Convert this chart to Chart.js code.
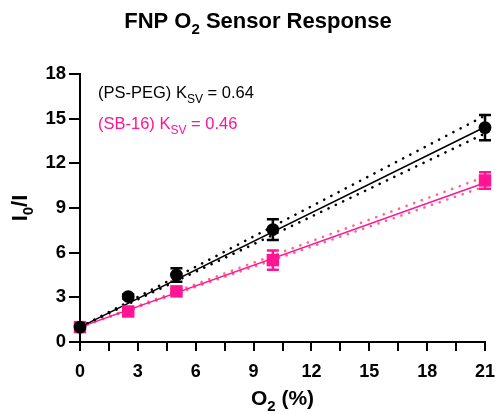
<!DOCTYPE html>
<html>
<head>
<meta charset="utf-8">
<script src="https://cdn.jsdelivr.net/npm/chart.js@4/dist/chart.umd.min.js"></script>
<style>
html,body{margin:0;padding:0;background:#fff;}
#wrap{width:495px;height:414px;}
</style>
</head>
<body>
<div id="wrap"><canvas id="c" width="495" height="414"></canvas></div>
<script>
// ---- data ----
const o2Levels      = [0, 2.5, 5, 10, 21];
const psPegMean     = [1.0, 3.05, 4.5, 7.55, 14.4];
const psPegErr      = [0, 0.15, 0.45, 0.7, 0.85];
const sb16Mean      = [1.0, 2.05, 3.4, 5.5, 10.85];
const sb16Err       = [0, 0.1, 0.15, 0.65, 0.55];
const fitX          = [0, 21];
const psPegFit      = [1.0, 14.44];
const psPegUpper    = [1.0, 15.2];
const psPegLower    = [1.0, 14.0];
const sb16Fit       = [1.0, 10.7];
const sb16Upper     = [1.0, 11.1];
const sb16Lower     = [1.0, 10.45];
const xTicks        = [0, 3, 6, 9, 12, 15, 18, 21];
const xMinorTicks   = [1.5, 4.5, 7.5, 10.5, 13.5, 16.5, 19.5];
const yTicks        = [0, 3, 6, 9, 12, 15, 18];
const ksvPsPeg      = '0.64';
const ksvSb16       = '0.46';

const BLACK = '#000000';
const PINK = '#FF1493';
const PINK_BAND = '#FF6680';
const FONT = '"Liberation Sans", Arial, Helvetica, sans-serif';

const pts = (xs, ys) => xs.map((x, i) => ({x: x, y: ys[i]}));

function drawRich(ctx, parts, x, y, align, size, weight, color) {
  ctx.save();
  ctx.fillStyle = color;
  ctx.textBaseline = 'alphabetic';
  const subSize = Math.round(size * 0.7);
  let total = 0;
  const widths = parts.map(p => {
    ctx.font = weight + ' ' + (p.sub ? subSize : size) + 'px ' + FONT;
    const w = ctx.measureText(p.t).width;
    total += w;
    return w;
  });
  let cx = align === 'center' ? x - total / 2 : (align === 'right' ? x - total : x);
  ctx.textAlign = 'left';
  parts.forEach((p, i) => {
    ctx.font = weight + ' ' + (p.sub ? subSize : size) + 'px ' + FONT;
    ctx.fillText(p.t, cx, p.sub ? y + size * 0.28 : y);
    cx += widths[i];
  });
  ctx.restore();
}

const errorBars = {
  id: 'errorBars',
  afterDatasetsDraw(chart) {
    const ctx = chart.ctx;
    const xs = chart.scales.x, ys = chart.scales.y;
    const sets = [[psPegMean, psPegErr, BLACK], [sb16Mean, sb16Err, PINK]];
    ctx.save();
    sets.forEach(([m, e, col]) => {
      ctx.strokeStyle = col;
      ctx.lineWidth = 2.5;
      o2Levels.forEach((x, i) => {
        if (!e[i]) return;
        const px = xs.getPixelForValue(x);
        const top = ys.getPixelForValue(m[i] + e[i]);
        const bot = ys.getPixelForValue(m[i] - e[i]);
        ctx.beginPath();
        ctx.moveTo(px, top); ctx.lineTo(px, bot);
        ctx.moveTo(px - 6, top); ctx.lineTo(px + 6, top);
        ctx.moveTo(px - 6, bot); ctx.lineTo(px + 6, bot);
        ctx.stroke();
      });
    });
    ctx.restore();
  }
};

const decorations = {
  id: 'decorations',
  afterDraw(chart) {
    const ctx = chart.ctx;
    const a = chart.chartArea;
    // title
    drawRich(ctx, [{t:'FNP O'}, {t:'2', sub:true}, {t:' Sensor Response'}], 258, 28, 'center', 22, 'bold', BLACK);
    // x title
    drawRich(ctx, [{t:'O'}, {t:'2', sub:true}, {t:' (%)'}], (a.left + a.right) / 2, 405, 'center', 21, 'bold', BLACK);
    // y title
    ctx.save();
    ctx.translate(27, (a.top + a.bottom) / 2);
    ctx.rotate(-Math.PI / 2);
    drawRich(ctx, [{t:'I'}, {t:'0', sub:true}, {t:'/I'}], 0, 0, 'center', 22, 'bold', BLACK);
    ctx.restore();
    // annotations
    drawRich(ctx, [{t:'(PS-PEG) K'}, {t:'SV', sub:true}, {t:' = ' + ksvPsPeg}], 98, 98, 'left', 16.5, 'normal', BLACK);
    drawRich(ctx, [{t:'(SB-16) K'}, {t:'SV', sub:true}, {t:' = ' + ksvSb16}], 98, 129, 'left', 16.5, 'normal', PINK);
  }
};

new Chart(document.getElementById('c'), {
  type: 'line',
  data: {
    datasets: [
      { data: pts(o2Levels, psPegMean), showLine: false, pointStyle: 'circle', pointRadius: 6.4,
        pointBackgroundColor: BLACK, pointBorderColor: BLACK, pointBorderWidth: 0, clip: false },
      { data: pts(o2Levels, sb16Mean), showLine: false, pointStyle: 'rect', pointRadius: 8.8,
        pointBackgroundColor: PINK, pointBorderColor: PINK, pointBorderWidth: 0, clip: false },
      { data: pts(fitX, psPegFit), borderColor: BLACK, borderWidth: 1.5, pointRadius: 0, clip: false },
      { data: pts(fitX, sb16Fit), borderColor: PINK, borderWidth: 1.5, pointRadius: 0, clip: false },
      { data: pts(fitX, psPegUpper), borderColor: BLACK, borderWidth: 2.6, borderDash: [0.1, 8], borderCapStyle: 'round', pointRadius: 0, clip: false },
      { data: pts(fitX, psPegLower), borderColor: BLACK, borderWidth: 2.6, borderDash: [0.1, 8], borderCapStyle: 'round', pointRadius: 0, clip: false },
      { data: pts(fitX, sb16Upper), borderColor: PINK_BAND, borderWidth: 2.6, borderDash: [0.1, 8], borderCapStyle: 'round', pointRadius: 0, clip: false },
      { data: pts(fitX, sb16Lower), borderColor: PINK_BAND, borderWidth: 2.6, borderDash: [0.1, 8], borderCapStyle: 'round', pointRadius: 0, clip: false }
    ]
  },
  options: {
    responsive: false,
    animation: false,
    events: [],
    layout: { padding: { top: 74, right: 10, left: 0, bottom: 0 } },
    plugins: { legend: { display: false }, tooltip: { enabled: false }, title: { display: false } },
    scales: {
      x: {
        type: 'linear', min: 0, max: 21,
        afterBuildTicks: s => {
          s.ticks = xTicks.concat(xMinorTicks).sort((p, q) => p - q).map(v => ({value: v}));
        },
        afterFit: s => { s.height = 72; s.paddingLeft = 0; s.paddingRight = 0; },
        ticks: {
          color: BLACK, font: { family: FONT, size: 18, weight: 'bold' }, padding: 10,
          maxRotation: 0, autoSkip: false,
          callback: v => (xTicks.includes(v) ? String(v) : '')
        },
        grid: { drawOnChartArea: false, drawTicks: true, tickLength: 9, color: BLACK, lineWidth: 2 },
        border: { color: BLACK, width: 2 }
      },
      y: {
        type: 'linear', min: 0, max: 18,
        afterBuildTicks: s => { s.ticks = yTicks.map(v => ({value: v})); },
        afterFit: s => { s.width = 80; s.paddingTop = 0; s.paddingBottom = 0; },
        ticks: { color: BLACK, font: { family: FONT, size: 18.5, weight: 'bold' }, padding: 3 },
        grid: { drawOnChartArea: false, drawTicks: true, tickLength: 11, color: BLACK, lineWidth: 2 },
        border: { color: BLACK, width: 2 }
      }
    }
  },
  plugins: [errorBars, decorations]
});
</script>
</body>
</html>
